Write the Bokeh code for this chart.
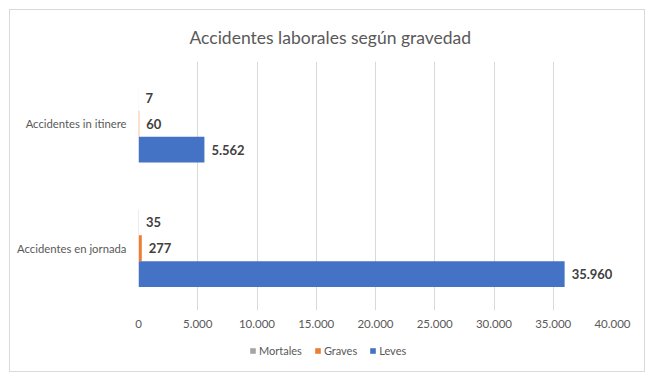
from bokeh.plotting import figure
from bokeh.layouts import column
from bokeh.models import (ColumnDataSource, FactorRange, Range1d, FixedTicker,
                          CustomJSTickFormatter, Legend, LegendItem)
from bokeh.transform import dodge
from bokeh.core.properties import value
from bokeh.embed import file_html
from bokeh.resources import INLINE

categories = ["Accidentes en jornada", "Accidentes in itinere"]
series = ["Mortales", "Graves", "Leves"]
mortales = [35, 7]
graves = [277, 60]
leves = [35960, 5562]
x_ticks = [0, 5000, 10000, 15000, 20000, 25000, 30000, 35000, 40000]
colors = ["#a5a5a5", "#ed7d31", "#4472c4"]

FONT = "Lato"
W = 634

def fmt(v):
    return f"{v:,}".replace(",", ".")

p = figure(width=W, height=329, y_range=FactorRange(*categories),
           x_range=Range1d(0, 40000), output_backend="svg", toolbar_location=None,
           min_border_left=128, min_border_right=32, min_border_top=0, min_border_bottom=29)
p.outline_line_color = None
p.background_fill_color = "white"
p.border_fill_color = "white"

p.title.text = "Accidentes laborales según gravedad"
p.title.text_font = FONT
p.title.text_font_style = "normal"
p.title.text_font_size = "17.5px"
p.title.text_color = "#595959"
p.title.align = "left"
p.title.offset = 51
p.title.standoff = 28

offsets = [0.208, 0.0, -0.208]
vals = [mortales, graves, leves]
for name, v, off, c in zip(series, vals, offsets, colors):
    src = ColumnDataSource(dict(cat=categories, val=v, lab=[fmt(x) for x in v]))
    p.hbar(y=dodge("cat", off, range=p.y_range), right="val", left=0, height=0.208,
           source=src, fill_color=c, line_color=None)
    p.text(x="val", y=dodge("cat", off, range=p.y_range), text="lab", source=src,
           x_offset=7, text_baseline="middle", text_align="left",
           text_font=value(FONT), text_font_style="bold", text_font_size="13px",
           text_color="#404040")

p.xaxis.ticker = FixedTicker(ticks=x_ticks)
p.xaxis.formatter = CustomJSTickFormatter(code="return tick.toString().replace(/\\B(?=(\\d{3})+(?!\\d))/g, '.');")
p.xaxis.axis_line_color = None
p.xaxis.major_tick_line_color = None
p.xaxis.minor_tick_line_color = None
p.xaxis.major_label_text_font = FONT
p.xaxis.major_label_text_font_size = "11.5px"
p.xaxis.major_label_text_color = "#595959"
p.xaxis.major_label_standoff = 3

p.yaxis.axis_line_color = None
p.yaxis.major_tick_line_color = None
p.yaxis.minor_tick_line_color = None
p.yaxis.major_label_text_font = FONT
p.yaxis.major_label_text_font_size = "11.3px"
p.yaxis.major_label_text_color = "#595959"
p.yaxis.major_label_standoff = 6

p.xgrid.grid_line_color = "#d9d9d9"
p.ygrid.grid_line_color = None

# legend strip below the chart
lg = figure(width=W, height=32, x_range=Range1d(0, 1), y_range=Range1d(0, 1),
            output_backend="svg", toolbar_location=None,
            min_border_left=0, min_border_right=0, min_border_top=0, min_border_bottom=0)
lg.axis.visible = False
lg.grid.visible = False
lg.outline_line_color = None
lg.border_fill_color = "white"
items = []
for name, c in zip(series, colors):
    r = lg.hbar(y=[0.5], right=[0], left=[0], height=0, fill_color=c, line_color=None)
    items.append(LegendItem(label=name, renderers=[r]))
legend = Legend(items=items, orientation="horizontal", location=(111, 14),
                glyph_width=7, glyph_height=7, label_standoff=3, spacing=12,
                padding=0, margin=0, label_height=14,
                label_text_font=FONT, label_text_font_size="11px",
                label_text_color="#595959", background_fill_alpha=0,
                border_line_color=None)
lg.add_layout(legend, "center")

layout = column(p, lg, spacing=0, styles={"border": "1px solid #d9d9d9"})
layout.margin = (9, 0, 0, 9)

open("out.html", "w").write(file_html(layout, INLINE))
